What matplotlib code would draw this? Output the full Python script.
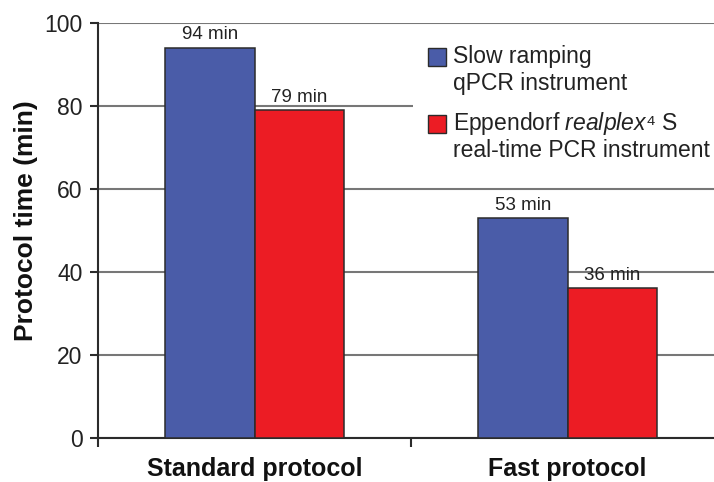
import matplotlib
matplotlib.use("Agg")
import matplotlib.pyplot as plt
import matplotlib.patches as mpatches
import numpy as np

# data
categories = ["Standard protocol", "Fast protocol"]
slow_times = [94, 53]
realplex_times = [79, 36]
slow_label = ["Slow ramping", "qPCR instrument"]
realplex_label = ["Eppendorf $\\mathit{realplex}$\u2074 S", "real-time PCR instrument"]
y_ticks = [0, 20, 40, 60, 80, 100]

BLUE = "#4a5ca8"
RED = "#ec1c24"
DARK = "#2b2b2b"
GRID = "#777777"

plt.rcParams["font.family"] = ["Liberation Sans", "DejaVu Sans"]
plt.rcParams["mathtext.fontset"] = "custom"
plt.rcParams["mathtext.rm"] = "Liberation Sans"
plt.rcParams["mathtext.it"] = "Liberation Sans:italic"

W, H = 714, 482
fig = plt.figure(figsize=(W / 100, H / 100), dpi=100)
ax = fig.add_axes([98 / W, (H - 437.7) / H, 1 - 98 / W, (437.7 - 22.7) / H])

x = np.arange(len(categories))
bw = 0.285
b1 = ax.bar(x - bw / 2, slow_times, bw, color=BLUE, edgecolor=DARK, linewidth=1.1, zorder=3)
b2 = ax.bar(x + bw / 2, realplex_times, bw, color=RED, edgecolor=DARK, linewidth=1.1, zorder=3)
ax.bar_label(b1, labels=[f"{v} min" for v in slow_times], padding=3, fontsize=13.5, color="#222222")
ax.bar_label(b2, labels=[f"{v} min" for v in realplex_times], padding=3, fontsize=13.5, color="#222222")

ax.set_xlim(-0.5, 1.468)
ax.set_ylim(0, 100)
ax.set_yticks(y_ticks)
ax.set_xticks(x)
ax.set_xticklabels(categories, fontsize=18, fontweight="bold", color="#111111")
ax.set_xticks([-0.5, 0.5], minor=True)
ax.tick_params(axis="x", which="major", length=0, pad=14)
ax.tick_params(axis="x", which="minor", length=6.5, width=1.5, color=DARK)
ax.tick_params(axis="y", length=6, width=1.5, color=DARK, labelsize=16.5, pad=5, labelcolor="#222222")

ax.set_axisbelow(True)
ax.yaxis.grid(True, color=GRID, linewidth=1.5)
for s in ("top", "right"):
    ax.spines[s].set_visible(False)
for s in ("left", "bottom"):
    ax.spines[s].set_color(DARK)
    ax.spines[s].set_linewidth(1.5)

ax.set_ylabel("Protocol time (min)", fontsize=19, fontweight="bold", color="#111111")
ax.yaxis.label.set_va("center")
ax.yaxis.set_label_coords((26 - 98) / 616, (437.7 - 221) / 415)

# legend, drawn by hand so the swatch sits on the first line
fig.patches.append(mpatches.Rectangle((413 / W, 1 - 172 / H), 1, 140 / H, transform=fig.transFigure,
                                      facecolor="white", edgecolor="none", zorder=1))
for top, color, lines in ((48, BLUE, slow_label), (115, RED, realplex_label)):
    fig.patches.append(mpatches.Rectangle((428 / W, 1 - (top + 18) / H), 18 / W, 18 / H,
                                          transform=fig.transFigure, facecolor=color,
                                          edgecolor=DARK, linewidth=1, zorder=2))
    for i, line in enumerate(lines):
        fig.text(453 / W, 1 - (top + 15 + 27 * i) / H, line, fontsize=16.5, color="#222222",
                 va="baseline", ha="left", zorder=3)

fig.savefig("out.png", dpi=100)
